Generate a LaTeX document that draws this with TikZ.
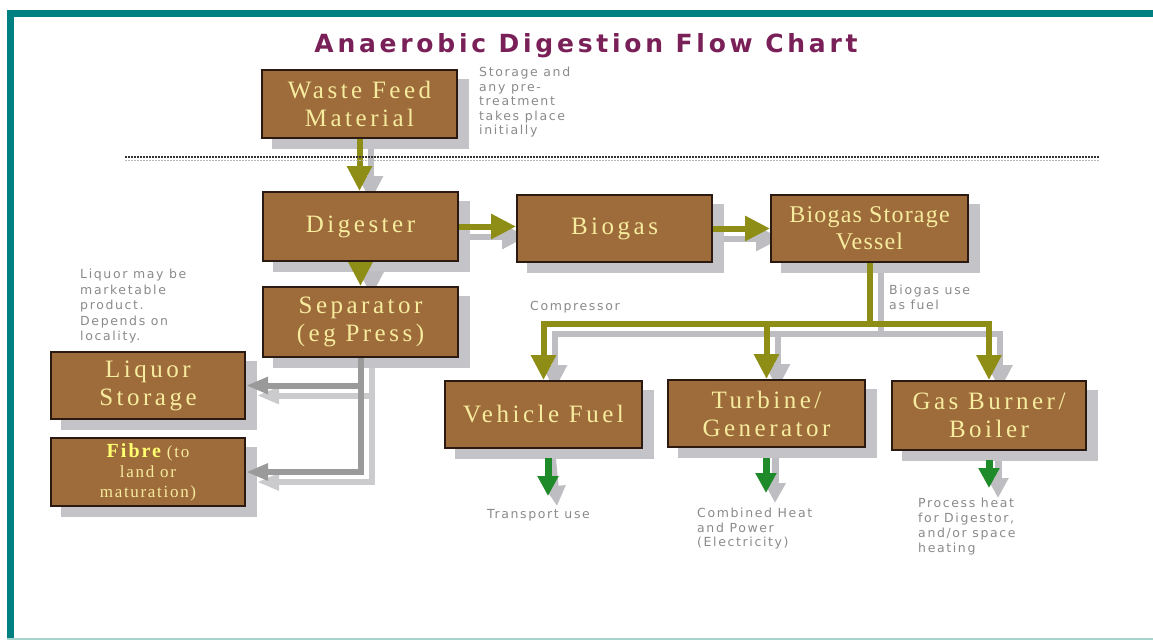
\documentclass[tikz,border=0pt]{standalone}
\usepackage{fontspec}
\setmainfont{Liberation Serif}
\newfontfamily\notefont{DejaVu Sans}
\newfontfamily\titlefont{DejaVu Sans}
\usetikzlibrary{arrows.meta,calc}
\definecolor{teal1}{HTML}{008080}
\definecolor{teallight}{HTML}{A8D4CE}
\definecolor{boxfill}{HTML}{9E6B3B}
\definecolor{boxline}{HTML}{2B1A12}
\definecolor{boxtext}{HTML}{F6EC9E}
\definecolor{fibreyellow}{HTML}{FFFF70}
\definecolor{shadowgray}{HTML}{C3C3C8}
\definecolor{olive}{HTML}{8E8E16}
\definecolor{arrowshadow}{HTML}{BEBEC2}
\definecolor{sepgray}{HTML}{9A9A9A}
\definecolor{sepshadow}{HTML}{CBCBCE}
\definecolor{darkgreen}{HTML}{1E8A2A}
\definecolor{notegray}{HTML}{8A8A8A}
\definecolor{titlecol}{HTML}{7A2058}
\definecolor{dotcol}{HTML}{333333}
\pgfdeclarelayer{bgone}
\pgfdeclarelayer{bgtwo}
\pgfsetlayers{bgone,bgtwo,main}
\tikzset{
  box/.style={draw=boxline, line width=2, fill=boxfill, text=boxtext, align=center, inner sep=0,
    font={\fontsize{25}{28}\selectfont\addfontfeature{LetterSpace=14}}},
  notefnt/.style={font={\notefont\fontsize{12.5}{#1}\selectfont\addfontfeature{LetterSpace=13}}},
  note/.style={text=notegray, align=left, anchor=north west, inner sep=0, notefnt=14.5},
  oarrow/.style={draw=olive, line width=6, line join=miter, -{Triangle[length=25pt,width=24pt]}},
  oshadow/.style={draw=arrowshadow, line width=6, line join=miter, -{Triangle[length=25pt,width=24pt]},
    transform canvas={shift={(11,10)}}},
  garrow/.style={draw=sepgray, line width=6, line join=miter, -{Triangle[length=22pt,width=16pt]}},
  gshadow/.style={draw=sepshadow, line width=6, line join=miter, -{Triangle[length=22pt,width=16pt]},
    transform canvas={shift={(11,10)}}},
  greenarrow/.style={draw=darkgreen, line width=7, -{Triangle[length=20pt,width=20pt]}},
  greenshadow/.style={draw=arrowshadow, line width=7, -{Triangle[length=20pt,width=20pt]},
    transform canvas={shift={(9,10)}}},
  boxshadow/.style={fill=shadowgray},
}
\begin{document}
\begin{tikzpicture}[x=1pt,y=-1pt]
\useasboundingbox (0,0) rectangle (1153,640);
% frame
\fill[teal1] (7,10) rectangle (1153,17);
\fill[teal1] (7,10) rectangle (14,640);
\draw[teallight, line width=1.5] (7,639) -- (1153,639);
% title
\node[font={\titlefont\bfseries\fontsize{25}{27}\selectfont\addfontfeature{LetterSpace=15}}, text=titlecol] (title) at (586,46) {Anaerobic Digestion Flow Chart};
% boxes
\node[box, minimum width=195, minimum height=68] (waste) at (359.5,104) {Waste Feed\\Material};
\node[box, minimum width=195, minimum height=69] (digester) at (360.5,226.5) {Digester};
\node[box, minimum width=195, minimum height=70] (separator) at (360.5,322) {Separator\\(eg Press)};
\node[box, minimum width=195, minimum height=67] (biogas) at (614.5,228.5) {Biogas};
\node[box, minimum width=197, minimum height=67, font={\fontsize{24}{27}\selectfont\addfontfeature{LetterSpace=5}}] (storage) at (869.5,228.5) {Biogas Storage\\Vessel};
\node[box, minimum width=194, minimum height=67] (liquor) at (148,385.5) {Liquor\\Storage};
\node[box, minimum width=194, minimum height=68, font={\fontsize{17}{20}\selectfont\addfontfeature{LetterSpace=10}}] (fibre) at (148,472)
  {{\fontsize{20}{20}\selectfont\bfseries\color{fibreyellow}Fibre} (to\\land or\\maturation)};
\node[box, minimum width=197, minimum height=67] (vehicle) at (543.5,414.5) {Vehicle Fuel};
\node[box, minimum width=197, minimum height=67] (turbine) at (766.5,413.5) {Turbine/\\Generator};
\node[box, minimum width=194, minimum height=69] (gas) at (989,415.5) {Gas Burner/\\Boiler};
% notes
\node[note] (n1) at (479,67) {Storage and\\any pre-\\treatment\\takes place\\initially};
\node[note, notefnt=15.5] (n2) at (80,269) {Liquor may be\\marketable\\product.\\Depends on\\locality.};
\node[note] (n3) at (530,301) {Compressor};
\node[note, notefnt=15] (n4) at (889,285) {Biogas use\\as fuel};
\node[note] (n5) at (487,509) {Transport use};
\node[note] (n6) at (697,508) {Combined Heat\\and Power\\(Electricity)};
\node[note, notefnt=15] (n7) at (918,498) {Process heat\\for Digestor,\\and/or space\\heating};
% coordinates
\coordinate (bus) at (0,324);
\coordinate (dotL) at (125,157);
\coordinate (dotR) at (1100,157);
\coordinate (v1) at (548,458); \coordinate (v2) at (548,496);
\coordinate (t1) at (766,458); \coordinate (t2) at (766,493);
\coordinate (g1) at (989,460); \coordinate (g2) at (989,488);
% dotted separator
\draw[dotcol, line width=1.3, dash pattern=on 1.5pt off 1.5pt] (dotL) -- (dotR);
\draw[dotcol!35, line width=1, dash pattern=on 1.5pt off 1.5pt] ([yshift=-3pt]dotL) -- ([yshift=-3pt]dotR);
% shadows
\begin{pgfonlayer}{bgone}
\foreach \n in {waste,digester,separator,biogas,storage,liquor,fibre,vehicle,turbine,gas}
  \fill[boxshadow] ([shift={(11,10)}]\n.south west) rectangle ([shift={(11,10)}]\n.north east);
\draw[oshadow] (waste.south) -- (waste.south |- digester.north);
\draw[oshadow] (digester.south) -- (separator.north);
\draw[oshadow] (digester.east) -- (digester.east -| biogas.west);
\draw[oshadow] (biogas.east) -- (biogas.east -| storage.west);
\draw[oshadow] (storage.south) -- (storage.south |- bus) -| (vehicle.north);
\draw[oshadow] (storage.south) -- (storage.south |- bus) -| (turbine.north);
\draw[oshadow] (storage.south) -- (storage.south |- bus) -| (gas.north);
\draw[gshadow] (separator.south) |- (liquor.east);
\draw[gshadow] (separator.south) |- (fibre.east);
\draw[greenshadow] (vehicle.south) -- (v2);
\draw[greenshadow] (turbine.south) -- (t2);
\draw[greenshadow] (gas.south) -- (g2);
\end{pgfonlayer}
% arrows
\begin{pgfonlayer}{bgtwo}
\draw[oarrow] (waste.south) -- (waste.south |- digester.north);
\draw[oarrow] (digester.south) -- (separator.north);
\draw[oarrow] (digester.east) -- (digester.east -| biogas.west);
\draw[oarrow] (biogas.east) -- (biogas.east -| storage.west);
\draw[oarrow] (storage.south) -- (storage.south |- bus) -| (vehicle.north);
\draw[oarrow] (storage.south) -- (storage.south |- bus) -| (turbine.north);
\draw[oarrow] (storage.south) -- (storage.south |- bus) -| (gas.north);
\draw[garrow] (separator.south) |- (liquor.east);
\draw[garrow] (separator.south) |- (fibre.east);
\end{pgfonlayer}
\draw[greenarrow] (v1) -- (v2);
\draw[greenarrow] (t1) -- (t2);
\draw[greenarrow] (g1) -- (g2);
\end{tikzpicture}
\end{document}
